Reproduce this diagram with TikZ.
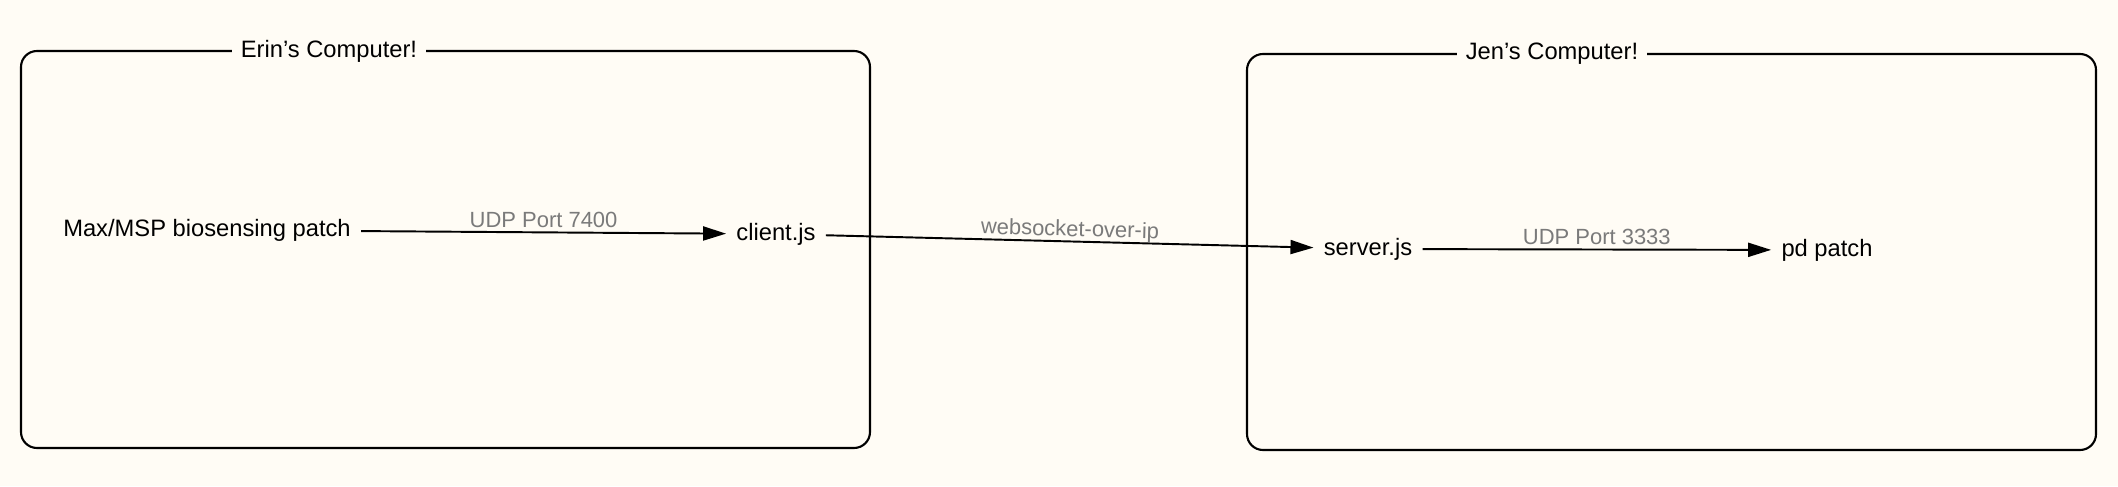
\documentclass[tikz,border=0pt]{standalone}
\usepackage{fontspec}
\setmainfont{Liberation Sans}
\usetikzlibrary{arrows.meta, positioning}
\definecolor{paper}{HTML}{FFFCF5}
\definecolor{portgray}{HTML}{7A7A7A}

\begin{document}
\begin{tikzpicture}[
    computer/.style={draw, line width=1.2pt, rounded corners=0.32cm},
    boxtitle/.style={fill=paper, inner xsep=5pt, inner ysep=2pt, font=\fontsize{13.5}{16}\selectfont},
    prog/.style={inner xsep=0.2cm, font=\fontsize{13.5}{16}\selectfont},
    link/.style={-{Triangle[length=0.46cm, width=0.28cm]}, line width=1.1pt},
    port/.style={portgray, font=\fontsize{12.5}{15}\selectfont, above=-1pt, midway}
]
    % Page
    \fill[paper] (0,0) rectangle (42.36,9.72);
    \useasboundingbox (0,0) rectangle (42.36,9.72);

    % Computers
    \draw[computer] (0.42,0.76) rectangle (17.40,8.70);
    \node[boxtitle] (erin) at (6.58,8.70) {Erin’s Computer!};
    \draw[computer] (24.94,0.72) rectangle (41.92,8.64);
    \node[boxtitle] (jen) at (31.04,8.64) {Jen’s Computer!};

    % Programs
    \node[prog] (max) at (4.14,5.12) {Max/MSP biosensing patch};
    \node[prog] (client) at (15.52,5.04) {client.js};
    \node[prog] (server) at (27.36,4.74) {server.js};
    \node[prog] (pd) at (36.54,4.72) {pd patch};

    % Links
    \draw[link] (max) -- node[port] {UDP Port 7400} (client);
    \draw[link] (client) -- node[port, sloped, above=-3.5pt] {websocket-over-ip} (server);
    \draw[link] (server) -- node[port] {UDP Port 3333} (pd);
\end{tikzpicture}
\end{document}
